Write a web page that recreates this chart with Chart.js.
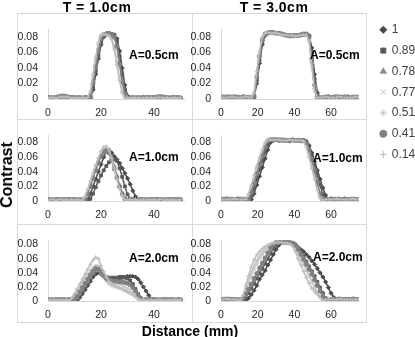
<!DOCTYPE html>
<html>
<head>
<meta charset="utf-8">
<title>Contrast vs distance</title>
<script src="https://cdn.jsdelivr.net/npm/chart.js@4.4.0/dist/chart.umd.min.js"></script>
<style>
  body { margin: 0; width: 415px; height: 337px; position: relative; overflow: hidden; background: #fff;
         font-family: "Liberation Sans", Arial, sans-serif; color: #000; }
  canvas { position: absolute; }
  .frame { position: absolute; left: 17px; top: 13px; width: 350px; height: 310px; box-sizing: border-box; border: 1px solid #d9d9d9; }
  .rule { position: absolute; background: #d9d9d9; }
  .txt { position: absolute; font-weight: bold; white-space: nowrap; }
</style>
</head>
<body>
<div class="frame"></div>
<div class="rule" style="left:192px; top:13px; width:1px; height:310px"></div>
<div class="rule" style="left:17px; top:119px; width:350px; height:1px"></div>
<div class="rule" style="left:17px; top:224px; width:350px; height:1px"></div>

<canvas id="c1" width="178" height="106" style="left:14px; top:13px"></canvas>
<canvas id="c2" width="176" height="106" style="left:190px; top:13px"></canvas>
<canvas id="c3" width="178" height="105" style="left:14px; top:119px"></canvas>
<canvas id="c4" width="176" height="105" style="left:190px; top:119px"></canvas>
<canvas id="c5" width="178" height="98" style="left:14px; top:224px"></canvas>
<canvas id="c6" width="176" height="98" style="left:190px; top:224px"></canvas>
<canvas id="leg" width="43" height="322" style="left:372px; top:15px"></canvas>

<div class="txt" style="left:97px; top:-1px; font-size:14px; letter-spacing:0.5px; transform:translateX(-50%)">T = 1.0cm</div>
<div class="txt" style="left:274px; top:-1px; font-size:14px; letter-spacing:0.5px; transform:translateX(-50%)">T = 3.0cm</div>
<div class="txt" style="left:129px; top:48px; font-size:12px">A=0.5cm</div>
<div class="txt" style="left:310px; top:48px; font-size:12px">A=0.5cm</div>
<div class="txt" style="left:129px; top:150px; font-size:12px">A=1.0cm</div>
<div class="txt" style="left:313px; top:151px; font-size:12px">A=1.0cm</div>
<div class="txt" style="left:129px; top:251px; font-size:12px">A=2.0cm</div>
<div class="txt" style="left:313px; top:250px; font-size:12px">A=2.0cm</div>
<div class="txt" style="left:7px; top:175px; font-size:16px; transform:translate(-50%,-50%) rotate(-90deg)">Contrast</div>
<div class="txt" style="left:190px; top:323px; font-size:14px; transform:translateX(-50%)">Distance (mm)</div>

<script>
// distance (mm)
const xLeft = [0,1,2,3,4,5,6,7,8,9,10,11,12,13,14,15,16,17,18,19,20,21,22,23,24,25,26,27,28,29,30,
  31,32,33,34,35,36,37,38,39,40,41,42,43,44,45,46,47,48,49,50];
const xRight = [0,1.5,3,4.5,6,7.5,9,10.5,12,13.5,15,16.5,18,19.5,21,22.5,24,25.5,27,28.5,30,31.5,33,34.5,
  36,37.5,39,40.5,42,43.5,45,46.5,48,49.5,51,52.5,54,55.5,57,58.5,60,61.5,63,64.5,66,67.5,69,70.5,72,73.5,75];

const seriesNames = ['1', '0.89', '0.78', '0.77', '0.51', '0.41', '0.14'];
const xTicksLeft = [0, 20, 40];
const xTicksRight = [0, 20, 40, 60];
const yTicks = [0, 0.02, 0.04, 0.06, 0.08];

// contrast x1000, T = 1.0cm, A = 0.5cm
const t1a05_100 = [1,2,1,2,2,3,3,3,2,2, 1,2,1,2,1,1,1,12,32,52, 70,80,83,84,84,83,78,62,40,18, 4,1,2,1,2,1,2,2,1,2, 2,3,2,2,1,2,1,2,1,2, 1];
const t1a05_089 = [2,1,2,2,3,3,4,3,2,1, 2,1,2,1,2,1,2,15,36,56, 73,82,84,85,84,82,75,55,32,12, 3,1,1,2,1,2,1,2,2,1, 2,2,3,2,2,1,2,1,2,1, 2];
const t1a05_078 = [1,2,2,1,2,3,3,4,3,2, 1,2,1,2,2,2,5,24,46,66, 79,84,85,84,83,80,68,46,24,7, 2,1,2,1,2,2,1,2,1,2, 2,2,2,3,2,2,1,2,1,1, 2];
const t1a05_077 = [2,1,2,2,2,3,3,3,2,2, 2,1,2,1,2,2,9,30,52,72, 82,84,83,82,78,66,46,25,9,2, 1,2,1,1,2,1,2,2,1,2, 2,2,3,2,2,1,2,2,1,2, 1];
const t1a05_051 = [1,2,1,2,3,3,4,3,3,2, 1,2,2,1,2,2,7,28,50,70, 81,84,84,82,79,68,48,27,10,3, 2,1,2,1,1,2,1,2,2,1, 2,3,2,2,2,1,2,1,2,1, 2];
const t1a05_041 = [2,2,1,2,3,4,4,3,2,2, 2,1,2,1,2,2,3,20,42,62, 78,83,84,84,83,80,68,45,22,6, 1,2,2,1,2,1,2,2,2,2, 2,2,3,3,2,2,1,2,2,2, 1];
const t1a05_014 = [1,2,2,1,2,3,3,3,2,1, 2,1,1,2,1,2,10,32,54,73, 82,84,83,82,77,64,44,24,8,2, 1,1,2,1,2,1,1,2,1,2, 1,2,2,2,1,2,1,1,2,1, 2];

// T = 1.0cm, A = 1.0cm
const t1a10_100 = [1,2,1,2,2,1,2,2,1,2, 1,2,1,2,1,2,10,20,30,40, 50,60,68,70,66,61,57,52,45,38, 31,23,14,6,1,2,1,2,1,2, 2,1,2,2,1,2,1,2,1,2, 1];
const t1a10_089 = [2,1,2,1,2,2,1,2,2,1, 2,1,2,1,2,1,3,10,19,27, 35,42,48,53,56,57,55,45,33,20, 9,3,1,2,1,2,2,1,2,1, 1,2,2,1,2,2,1,2,1,2, 2];
const t1a10_078 = [1,2,2,1,2,1,2,1,2,2, 1,2,1,2,4,12,22,33,44,54, 62,68,70,68,60,48,35,22,11,4, 1,2,1,2,2,1,2,1,2,2, 2,1,2,1,2,2,2,1,2,1, 2];
const t1a10_077 = [2,1,2,2,1,2,2,1,2,1, 2,1,2,2,6,15,26,37,48,58, 66,71,72,68,57,44,30,17,7,2, 1,2,1,2,1,2,1,2,2,1, 2,2,1,2,2,1,2,2,1,2, 1];
const t1a10_051 = [1,2,1,2,2,1,2,2,1,2, 1,2,1,2,5,14,24,35,45,54, 62,67,68,65,56,44,31,19,9,3, 1,1,2,1,2,2,1,2,1,2, 1,2,2,1,2,1,2,1,2,2, 1];
const t1a10_041 = [2,2,1,2,2,2,1,2,2,2, 2,1,2,1,2,10,20,31,42,52, 61,67,69,66,56,44,32,20,10,3, 1,2,2,1,2,2,2,1,2,2, 2,2,2,2,1,2,2,2,2,2, 2];
const t1a10_014 = [1,2,2,1,2,2,1,2,1,2, 1,2,1,1,6,16,27,38,49,59, 68,74,75,70,58,44,30,17,7,2, 1,2,1,2,1,1,2,1,2,1, 2,1,2,2,1,2,1,2,1,1, 2];

// T = 1.0cm, A = 2.0cm
const t1a20_100 = [1,2,1,2,1,2,2,1,2,1, 2,1,5,10,16,22,28,34,38,40, 38,35,32,31,30,30,31,32,33,34, 35,35,35,34,31,26,20,14,8,3, 1,2,1,2,2,1,2,1,2,1, 2];
const t1a20_089 = [2,1,2,2,1,2,1,2,2,1, 1,2,7,13,19,26,33,39,43,44, 41,37,34,33,33,33,33,34,34,33, 32,29,24,17,10,4,1,2,1,2, 2,1,2,1,2,2,1,2,1,2, 1];
const t1a20_078 = [1,2,1,2,2,1,2,2,1,2, 2,5,10,16,22,28,34,39,43,45, 43,38,33,30,28,27,27,27,27,26, 25,23,19,14,9,4,1,2,1,2, 1,2,2,1,2,1,2,2,1,2, 1];
const t1a20_077 = [2,1,2,1,2,2,1,2,1,2, 7,13,19,25,31,37,43,48,51,50, 45,39,34,30,28,26,25,24,22,20, 18,15,12,8,4,1,2,1,2,2, 1,2,1,2,2,1,2,1,2,2, 1];
const t1a20_051 = [1,2,1,2,1,2,2,1,2,3, 8,14,20,26,32,38,43,47,47,44, 39,33,28,24,22,20,19,18,17,15, 13,11,9,6,3,1,2,1,2,1, 2,1,2,2,1,2,1,2,2,1, 2];
const t1a20_041 = [2,2,1,2,2,2,2,1,2,2, 2,7,13,19,25,31,37,42,46,45, 41,36,32,30,29,28,28,27,27,26, 25,23,19,14,8,3,1,2,2,2, 2,2,1,2,2,2,2,2,1,2, 2];
const t1a20_014 = [1,2,1,2,1,2,1,2,1,4, 10,17,24,31,38,45,52,58,62,60, 50,42,34,28,25,23,21,19,17,15, 13,11,9,6,3,1,2,1,1,2, 1,2,1,2,1,1,2,1,2,1, 2];

// T = 3.0cm, A = 0.5cm
const t3a05_100 = [2,3,2,2,3,2,2,2,3,2, 2,2,2,20,46,70,82,85,86,86, 85,84,84,83,82,81,82,82,82,82, 83,84,82,66,32,8,2,2,3,2, 2,3,2,2,2,3,2,2,2,3, 2];
const t3a05_089 = [3,2,2,3,2,2,3,2,2,2, 2,2,3,24,50,73,83,86,86,85, 85,85,84,83,82,82,81,82,82,83, 83,84,81,60,26,5,2,2,2,3, 2,2,2,3,2,2,2,2,3,2, 2];
const t3a05_078 = [2,2,2,3,2,3,2,2,2,3, 2,2,5,30,57,77,84,85,85,86, 85,84,84,83,82,82,82,81,82,83, 84,83,78,48,15,2,2,2,3,2, 2,2,2,2,3,2,2,2,2,2, 3];
const t3a05_077 = [2,2,3,2,2,2,2,3,2,2, 2,2,7,34,60,79,85,85,86,85, 85,84,83,83,82,82,81,82,82,83, 83,83,76,44,12,2,2,2,2,3, 2,2,3,2,2,2,2,3,2,2, 2];
const t3a05_051 = [2,3,2,2,2,3,2,2,2,2, 3,2,6,32,58,78,84,86,85,86, 85,84,84,82,82,81,82,82,82,83, 84,83,77,46,14,2,2,3,2,2, 2,3,2,2,2,2,3,2,2,2, 2];
const t3a05_041 = [2,2,3,2,2,3,2,2,3,2, 2,1,4,28,55,76,84,85,86,86, 85,85,84,83,82,82,82,82,82,83, 84,84,80,52,18,3,1,2,2,3, 2,2,3,2,2,2,3,2,2,2, 2];
const t3a05_014 = [2,2,2,2,3,2,2,2,2,3, 2,2,8,36,62,80,85,86,85,85, 85,84,83,83,82,82,82,81,82,82, 83,83,75,42,10,2,2,2,3,2, 2,2,2,3,2,2,2,2,2,3, 2];

// T = 3.0cm, A = 1.0cm
const t3a10_100 = [2,3,2,2,2,2,2,3,2,2, 2,2,10,22,34,46,58,70,80,83, 84,83,83,83,83,82,83,83,83,82, 82,82,76,66,54,42,30,18,8,2, 1,2,2,3,2,2,2,2,3,2, 2];
const t3a10_089 = [2,2,2,3,2,2,2,2,2,3, 2,6,17,30,43,55,67,77,83,84, 84,84,83,83,83,83,83,83,83,83, 83,81,74,63,50,36,22,9,3,2, 2,2,3,2,2,2,2,3,2,2, 2];
const t3a10_078 = [2,2,2,2,3,2,2,2,3,2, 4,15,27,40,53,65,76,83,84,84, 84,84,83,84,83,83,83,83,84,83, 83,79,68,54,39,23,8,2,2,2, 2,3,2,2,2,2,2,2,2,3, 2];
const t3a10_077 = [2,2,2,3,2,2,3,2,2,2, 8,20,33,46,58,68,78,84,84,84, 84,83,84,83,83,83,83,84,83,83, 82,76,63,48,33,18,5,1,2,2, 3,2,2,2,3,2,2,2,2,2, 2];
const t3a10_051 = [2,3,2,2,2,2,2,2,3,3, 7,18,31,44,56,67,77,83,84,84, 83,84,83,83,84,83,83,83,83,83, 82,77,65,50,35,20,6,1,2,2, 2,2,2,3,2,2,2,3,2,2, 2];
const t3a10_041 = [2,2,3,2,2,2,3,2,2,2, 2,12,24,37,50,62,74,82,84,84, 84,83,84,83,83,83,84,83,83,83, 83,80,70,57,42,26,10,2,2,2, 3,2,2,2,2,3,2,2,2,2, 2];
const t3a10_014 = [2,2,2,2,2,3,2,2,2,2, 10,22,35,48,60,70,80,84,84,84, 84,84,83,83,83,84,83,83,83,83, 82,74,60,45,30,15,4,1,2,2, 2,2,3,2,2,2,2,2,3,2, 2];

// T = 3.0cm, A = 2.0cm
const t3a20_100 = [2,2,2,3,2,2,2,2,2,1, 4,9,15,22,31,37,43,51,58,66, 73,79,83,83,83,83,82,80,76,73, 70,66,62,57,52,46,40,34,27,19, 11,5,2,1,2,2,3,2,2,2, 2];
const t3a20_089 = [2,2,2,2,3,2,2,2,1,5, 11,18,25,32,39,46,53,60,67,74, 79,82,83,83,83,83,82,80,75,69, 63,56,49,42,35,27,19,11,4,1, 2,2,3,2,2,2,2,2,2,3, 2];
const t3a20_078 = [2,3,2,2,2,2,2,2,3,8, 15,22,29,37,44,52,59,66,73,79, 82,83,83,83,83,83,82,80,75,68, 61,54,47,40,32,24,16,8,3,1, 2,2,2,2,2,3,2,2,2,2, 2];
const t3a20_077 = [2,2,2,2,3,2,2,1,6,17, 29,40,50,58,64,69,73,77,80,82, 83,83,83,83,82,82,80,76,69,61, 53,45,37,29,21,13,6,2,1,2, 2,3,2,2,2,2,2,3,2,2, 2];
const t3a20_051 = [2,2,2,3,2,2,2,2,5,14, 25,35,45,53,60,66,71,75,79,81, 83,83,83,82,82,81,79,74,67,59, 51,43,35,27,19,12,6,2,1,2, 2,2,2,2,3,2,2,2,2,2, 3];
const t3a20_041 = [2,2,3,2,2,2,2,1,4,10, 17,24,32,39,47,54,61,68,75,80, 83,83,83,83,83,83,82,79,73,66, 59,52,45,38,30,22,14,6,2,1, 2,2,2,3,2,2,2,2,3,2, 2];
const t3a20_014 = [2,2,3,2,2,2,2,1,8,22, 36,48,58,65,70,74,77,79,81,82, 83,83,83,82,82,81,78,70,60,51, 42,33,25,18,13,9,5,1,2,2, 2,2,2,3,2,2,2,2,2,2, 2];

const colors = ['#4a4a4a', '#5a5a5a', '#8f8f8f', '#c4c4c4', '#c9c9c9', '#808080', '#bdbdbd'];
const styles = ['rectRot', 'rect', 'triangle', 'crossRot', 'star', 'circle', 'cross'];

Chart.defaults.font.family = '"Liberation Sans", Arial, sans-serif';
Chart.defaults.animation = false;

const panels = [
  { id: 'c1', xs: xLeft, xMax: 51.3, xTicks: xTicksLeft, yMax: 0.09, yW: 34, xH: 20, pad: { left: 0, right: 8, top: 7.25, bottom: 0 },
    series: [t1a05_100, t1a05_089, t1a05_078, t1a05_077, t1a05_051, t1a05_041, t1a05_014] },
  { id: 'c2', xs: xRight, xMax: 75.2, xTicks: xTicksRight, yMax: 0.09, yW: 31, xH: 20, pad: { left: 0, right: 7, top: 7.25, bottom: 0 },
    series: [t3a05_100, t3a05_089, t3a05_078, t3a05_077, t3a05_051, t3a05_041, t3a05_014] },
  { id: 'c3', xs: xLeft, xMax: 51.3, xTicks: xTicksLeft, yMax: 0.09, yW: 34, xH: 23, pad: { left: 0, right: 8, top: 4.4, bottom: 0 },
    series: [t1a10_100, t1a10_089, t1a10_078, t1a10_077, t1a10_051, t1a10_041, t1a10_014] },
  { id: 'c4', xs: xRight, xMax: 75.2, xTicks: xTicksRight, yMax: 0.09, yW: 31, xH: 23, pad: { left: 0, right: 7, top: 4.4, bottom: 0 },
    series: [t3a10_100, t3a10_089, t3a10_078, t3a10_077, t3a10_051, t3a10_041, t3a10_014] },
  { id: 'c5', xs: xLeft, xMax: 51.3, xTicks: xTicksLeft, yMax: 0.086, yW: 34, xH: 21, pad: { left: 0, right: 8, top: 1, bottom: 0 },
    series: [t1a20_100, t1a20_089, t1a20_078, t1a20_077, t1a20_051, t1a20_041, t1a20_014] },
  { id: 'c6', xs: xRight, xMax: 75.2, xTicks: xTicksRight, yMax: 0.086, yW: 31, xH: 21, pad: { left: 0, right: 7, top: 1, bottom: 0 },
    series: [t3a20_100, t3a20_089, t3a20_078, t3a20_077, t3a20_051, t3a20_041, t3a20_014] }
];

const tickFont = { size: 10.5 };
const tickColor = '#262626';

panels.forEach(p => {
  const datasets = p.series.map((vals, i) => ({
    label: seriesNames[i],
    data: vals.map((v, k) => ({ x: p.xs[k], y: v / 1000 })),
    showLine: true,
    borderColor: colors[i],
    backgroundColor: colors[i],
    borderWidth: 1.5,
    pointStyle: styles[i],
    pointRadius: 2,
    pointBorderWidth: 1,
    pointBackgroundColor: colors[i],
    pointBorderColor: colors[i],
    order: 6 - i
  }));
  new Chart(document.getElementById(p.id), {
    type: 'scatter',
    data: { datasets },
    options: {
      responsive: false,
      layout: { padding: p.pad },
      plugins: { legend: { display: false }, tooltip: { enabled: false } },
      scales: {
        x: {
          type: 'linear', min: 0, max: p.xMax,
          grid: { display: false, drawTicks: false },
          border: { color: '#d9d9d9' },
          afterBuildTicks: s => { s.ticks = p.xTicks.map(v => ({ value: v })); },
          afterFit: s => { s.height = p.xH; },
          ticks: { padding: 8, font: tickFont, color: tickColor, maxRotation: 0, autoSkip: false, callback: v => String(v) }
        },
        y: {
          min: 0, max: p.yMax,
          grid: { display: false, drawTicks: false },
          border: { color: '#d9d9d9' },
          afterBuildTicks: s => { s.ticks = yTicks.map(v => ({ value: v })); },
          afterFit: s => { s.width = p.yW; },
          ticks: { padding: 10, font: tickFont, color: tickColor, autoSkip: false, callback: v => String(v) }
        }
      }
    }
  });
});

// legend
new Chart(document.getElementById('leg'), {
  type: 'scatter',
  data: {
    datasets: seriesNames.map((n, i) => ({
      label: n, data: [], backgroundColor: colors[i], borderColor: colors[i],
      borderWidth: 1, pointStyle: styles[i]
    }))
  },
  options: {
    responsive: false,
    scales: { x: { display: false }, y: { display: false } },
    plugins: {
      tooltip: { enabled: false },
      legend: {
        position: 'top', align: 'start',
        labels: { usePointStyle: true, boxWidth: 5, boxHeight: 5, padding: 8.8, color: '#404040', font: { size: 12 } }
      }
    }
  }
});
</script>
</body>
</html>
